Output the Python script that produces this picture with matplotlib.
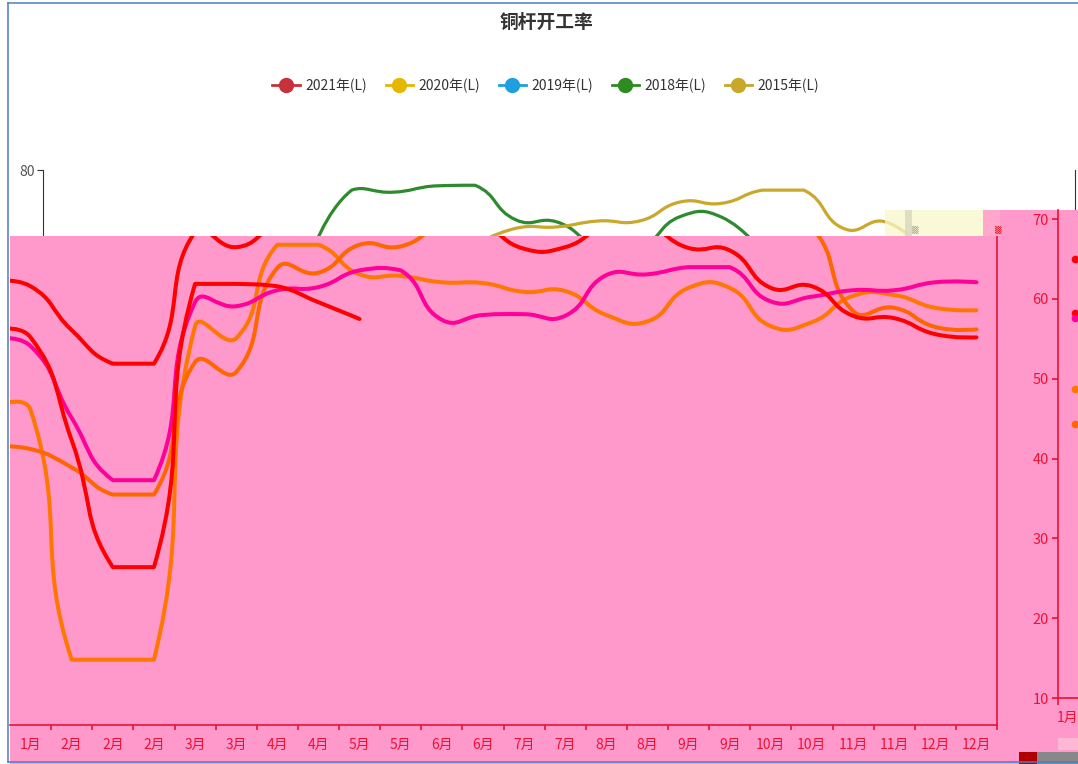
import numpy as np
import matplotlib
matplotlib.use('Agg')
from matplotlib import pyplot as plt
from matplotlib.path import Path
from matplotlib.patches import PathPatch, Rectangle
from matplotlib.lines import Line2D
from matplotlib.transforms import ScaledTranslation

plt.rcParams['font.family'] = ['Noto Sans CJK SC', 'DejaVu Sans']

W, H = 1078, 764

title = '铜杆开工率'
legend_names = ['2021年(L)', '2020年(L)', '2019年(L)', '2018年(L)', '2015年(L)']
legend_colors = ['#C8313A', '#E6B600', '#1EA0E0', '#2E8B22', '#C9A728']

months = ['1月', '2月', '2月', '2月', '3月', '3月', '4月', '4月', '5月', '5月', '6月', '6月',
          '7月', '7月', '8月', '8月', '9月', '9月', '10月', '10月', '11月', '11月', '12月', '12月']

# pink (front) chart, index -1 is the tail coming in from the left edge
pink_idx = np.arange(-1, 24)
red_a = [62.2, 61.7, 56.2, 52.0, 52.0, 68.5, 66.6, 69.4, 70.6, 71.0, 71.0, 70.6, 69.4,
         66.4, 66.6, 69.2, 69.2, 66.5, 66.2, 61.5, 61.7, 58.0, 57.7, 55.7, 55.3]
red_b_idx = np.arange(-1, 9)
red_b = [56.1, 55.3, 42.4, 26.5, 26.5, 62.0, 62.0, 61.7, 59.7, 57.6]
magenta = [55.0, 54.2, 45.2, 37.4, 37.4, 59.7, 59.2, 61.2, 61.6, 63.7, 63.7, 57.5, 58.1,
           58.2, 58.0, 63.1, 63.2, 64.1, 64.1, 59.8, 60.4, 61.2, 61.2, 62.2, 62.2]
orange_a = [46.4, 46.2, 14.9, 14.9, 14.9, 56.7, 55.2, 66.9, 66.9, 63.2, 63.0, 62.2, 62.1,
            61.0, 61.1, 58.1, 57.3, 61.5, 61.5, 56.7, 57.2, 60.5, 60.6, 59.0, 58.7]
orange_b = [41.55, 41.3, 39.0, 35.6, 35.6, 52.2, 50.95, 64.0, 63.4, 66.9, 66.7, 69.4, 70.5,
            71.0, 71.5, 71.5, 71.0, 70.5, 70.0, 69.5, 69.0, 58.6, 59.0, 56.6, 56.3]

# white chart underneath (only the visible stretch)
green_idx = np.arange(7, 19)
green_2018 = [67.5, 77.1, 76.8, 77.7, 77.8, 72.8, 72.5, 69.0, 68.8, 73.3, 73.2, 68.0]
gold_idx = np.arange(11, 23)
gold_2015 = [69.2, 71.6, 71.8, 72.65, 72.65, 75.4, 75.2, 77.1, 77.1, 71.5, 72.5, 67.8]

# right hand strip (start of another copy)
strip_ticks = [10, 20, 30, 40, 50, 60, 70]
strip_vals = [65.0, 58.3, 57.6, 48.7, 44.3]
strip_colors = ['#FF0000', '#FF0000', '#FF0099', '#FF7700', '#FF6600']

PINK = '#FF99CC'
AXRED = '#EE1133'


def fig_box(x0, y0, x1, y1):
    return [x0 / W, 1 - y1 / H, (x1 - x0) / W, (y1 - y0) / H]


def fig_rect(x0, y0, x1, y1, color, z, alpha=1.0):
    fig.add_artist(Rectangle((x0 / W, 1 - y1 / H), (x1 - x0) / W, (y1 - y0) / H,
                             transform=fig.transFigure, facecolor=color, edgecolor='none',
                             zorder=z, alpha=alpha))


def smooth_line(ax, xs, ys, color, lw, smooth=0.5):
    # echarts-4 style smooth bezier with bounding box constraint, in pixel space
    pts = ax.transData.transform(np.column_stack([xs, ys]))
    lo, hi = pts.min(axis=0), pts.max(axis=0)
    n = len(pts)
    cps = [pts[0].copy()]
    for i in range(1, n - 1):
        p, prv, nxt = pts[i], pts[i - 1], pts[i + 1]
        v = (nxt - prv) * smooth
        d0 = np.hypot(*(p - prv))
        d1 = np.hypot(*(p - nxt))
        s = d0 + d1
        c0 = np.clip(p - v * d0 / s, lo, hi)
        c1 = np.clip(p + v * d1 / s, lo, hi)
        cps += [c0, c1]
    cps.append(pts[-1].copy())
    verts = [pts[0]]
    codes = [Path.MOVETO]
    for i in range(n - 1):
        verts += [cps[2 * i], cps[2 * i + 1], pts[i + 1]]
        codes += [Path.CURVE4] * 3
    data = ax.transData.inverted().transform(np.array(verts))
    ax.add_patch(PathPatch(Path(data, codes), fill=False, edgecolor=color, lw=lw,
                           capstyle='round', joinstyle='round', zorder=3))


fig = plt.figure(figsize=(W / 100, H / 100), dpi=100)
fig.patch.set_facecolor('white')

# ---- white chart (behind) ----
axw = fig.add_axes(fig_box(43, 170, 1075, 725), zorder=0)
axw.set_xlim(0.487, 25.6)
axw.set_ylim(0, 80)
axw.set_facecolor('white')
for s in ['top', 'bottom']:
    axw.spines[s].set_visible(False)
axw.spines['left'].set_color('#333333')
axw.spines['right'].set_color('#333333')
axw.set_xticks([])
axw.set_yticks([80])
axw.tick_params(axis='y', length=4.5, color='#333333', labelcolor='#555555', labelsize=10, pad=1)
smooth_line(axw, green_idx, green_2018, '#2E8A2E', 2.3)
smooth_line(axw, gold_idx, gold_2015, '#C9A82C', 2.3)

# ---- pink overlay ----
fig_rect(10, 236, 1078, 764, PINK, 1)
fig_rect(983, 210, 1078, 236, PINK, 1)

axp = fig.add_axes(fig_box(10, 236, 997, 725), zorder=2)
axp.set_facecolor('none')
axp.set_xlim(-0.5, 23.5)
axp.set_ylim(6.72, 68.0)
for s in ['top', 'left']:
    axp.spines[s].set_visible(False)
for s in ['bottom', 'right']:
    axp.spines[s].set_color(AXRED)
    axp.spines[s].set_linewidth(1.2)
axp.set_yticks([])
axp.set_xticks(np.arange(0.5, 24, 1))
axp.set_xticklabels([])
axp.set_xticks(np.arange(24), minor=True)
axp.set_xticklabels(months, minor=True)
axp.tick_params(axis='x', which='major', length=3.6, color=AXRED, width=1.2)
axp.tick_params(axis='x', which='minor', length=0, labelcolor=AXRED, labelsize=10, pad=9)

smooth_line(axp, pink_idx, orange_a, '#FF7700', 2.9)
smooth_line(axp, pink_idx, orange_b, '#FF6600', 2.9)
smooth_line(axp, pink_idx, magenta, '#FF0099', 2.9)
smooth_line(axp, red_b_idx, red_b, '#FF0000', 2.9)
smooth_line(axp, pink_idx, red_a, '#FF0000', 2.9)

# glitchy patches along the top right
fig_rect(885, 210, 983, 236, '#F8F8CC', 3, alpha=0.75)
fig_rect(905, 210, 912, 236, '#D8D8C0', 3, alpha=0.8)
fig_rect(983, 210, 1000, 236, '#FFA8CC', 3)
fig.text(914 / W, 1 - 229 / H, '▒', fontsize=6, color='#999988', ha='center', va='center',
         family='DejaVu Sans', zorder=6)
fig.text(997 / W, 1 - 229 / H, '▒', fontsize=6, color='#DD0000', ha='center', va='center',
         family='DejaVu Sans', zorder=6)

# ---- right strip ----
axr = fig.add_axes(fig_box(1058, 210, 1078, 698), zorder=4)
axr.set_facecolor('none')
axr.set_xlim(-0.5, 0.1)
axr.set_ylim(10, 71.15)
for s in ['top', 'right']:
    axr.spines[s].set_visible(False)
for s in ['left', 'bottom']:
    axr.spines[s].set_color(AXRED)
    axr.spines[s].set_linewidth(1.2)
axr.set_yticks(strip_ticks)
axr.tick_params(axis='y', length=4.5, color=AXRED, width=1.2, labelcolor=AXRED, labelsize=10.5, pad=2)
axr.set_xticks([-0.5])
axr.set_xticklabels([''])
axr.set_xticks([0], minor=True)
axr.set_xticklabels(['1月'], minor=True)
axr.tick_params(axis='x', which='major', length=5, color=AXRED, width=1.2)
axr.tick_params(axis='x', which='minor', length=0, labelcolor=AXRED, labelsize=10, pad=9)
for lab in axr.get_xticklabels(minor=True):
    lab.set_transform(lab.get_transform() + ScaledTranslation(-7 / 100, 0, fig.dpi_scale_trans))
for v, c in zip(strip_vals, strip_colors):
    axr.plot([0], [v], marker='o', ms=4.5, color=c, clip_on=False)

fig_rect(1058, 738, 1078, 750, '#FFB8D4', 5)
fig_rect(1019, 752, 1037, 764, '#B00000', 5)
fig_rect(1037, 752, 1078, 764, '#888888', 5)

# ---- title and legend ----
fig.text(546 / W, 1 - 22 / H, title, ha='center', va='center', fontsize=13.5,
         fontweight='bold', color='#333333', zorder=6)
handles = [Line2D([], [], color=c, alpha=0.55, lw=2, marker='o', ms=10,
                  markerfacecolor=c, markeredgecolor=c) for c in legend_colors]
leg = fig.legend(handles, legend_names, loc='center', ncol=5, frameon=False,
                 bbox_to_anchor=(546 / W, 1 - 86 / H), fontsize=10, handlelength=2.0,
                 handletextpad=0.4, columnspacing=1.3, labelcolor='#333333')
for lh in leg.legend_handles:
    lh.set_alpha(1.0)

# blue frame of the screenshot
for xs, ys in [([8, 8], [3, 762]), ([8, 1078], [3, 3]), ([8, 1078], [762, 762])]:
    fig.add_artist(Line2D([x / W for x in xs], [1 - y / H for y in ys], transform=fig.transFigure,
                          color='#4A7EC2', lw=1.1, zorder=10))

fig.savefig('out.png', dpi=100)
